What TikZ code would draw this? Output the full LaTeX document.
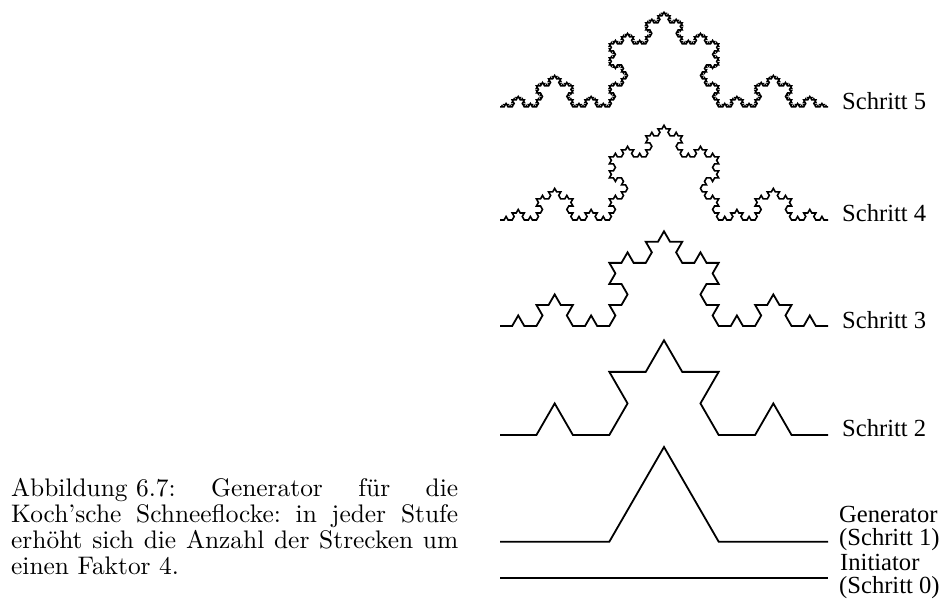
\documentclass[tikz,border=0pt]{standalone}
\usepackage{fontspec}
\newfontfamily\labelfont{Liberation Serif}
\newfontfamily\capfont{lmroman10-regular}[Extension=.otf]
\def\kochlen{1}
\def\kochpath{}
\def\kochseg#1#2{%
  \ifnum\numexpr#1\relax=0
    \xdef\kochpath{\kochpath -- ++(\the\numexpr#2\relax:\kochlen)}%
  \else
    \kochseg{#1-1}{#2}%
    \kochseg{#1-1}{#2+60}%
    \kochseg{#1-1}{#2-60}%
    \kochseg{#1-1}{#2}%
  \fi}
\newcommand\makekoch[2]{%
  \gdef\kochpath{}%
  \def\kochlen{#2}%
  \kochseg{#1}{0}}
\newcommand\drawkoch[4]{% start coordinate, order, segment length, line width
  \makekoch{#2}{#3}%
  \edef\kochdraw{\noexpand\draw[kochline, line width=#4] (#1) \kochpath;}%
  \kochdraw}
\begin{document}
\begin{tikzpicture}[x=1pt,y=1pt,
  kochline/.style={black, line join=miter},
  lbl/.style={anchor=base west, inner sep=0pt, font=\labelfont\fontsize{24.6}{24}\selectfont}]
\useasboundingbox (0,0) rectangle (943,601);
% start points of the curves
\coordinate (s0) at (500,22.7);
\coordinate (s1) at (500,59.3);
\coordinate (s2) at (500,166);
\coordinate (s3) at (500,275);
\coordinate (s4) at (500,381);
\coordinate (s5) at (500,494);
\drawkoch{s0}{0}{328}{1.8pt}
\drawkoch{s1}{1}{109.33333}{1.8pt}
\drawkoch{s2}{2}{36.44444}{1.8pt}
\drawkoch{s3}{3}{12.14815}{1.8pt}
\drawkoch{s4}{4}{4.049383}{1.6pt}
\drawkoch{s5}{5}{1.349794}{1.5pt}
% labels
\node[lbl] (l5) at (842,491) {Schritt 5};
\node[lbl] (l4) at (842,379) {Schritt 4};
\node[lbl] (l3) at (842,272) {Schritt 3};
\node[lbl] (l2) at (842,164) {Schritt 2};
\node[lbl] (gen) at (839,78) {Generator};
\node[lbl] (gens) at (839,55) {(Schritt 1)};
\node[lbl] (ini) at (840,30.5) {Initiator};
\node[lbl] (inis) at (839,7) {(Schritt 0)};
% caption
\node[anchor=base west, inner sep=0pt] (cap) at (11,104.3) {\parbox[t]{447pt}{\capfont\fontsize{25.4}{25.8}\selectfont\frenchspacing
\mbox{Abbildung 6.7:} Generator für die\linebreak
Koch’sche Schneeflocke: in jeder Stufe\linebreak
erhöht sich die Anzahl der Strecken um\linebreak
einen Faktor 4.}};
\end{tikzpicture}
\end{document}
